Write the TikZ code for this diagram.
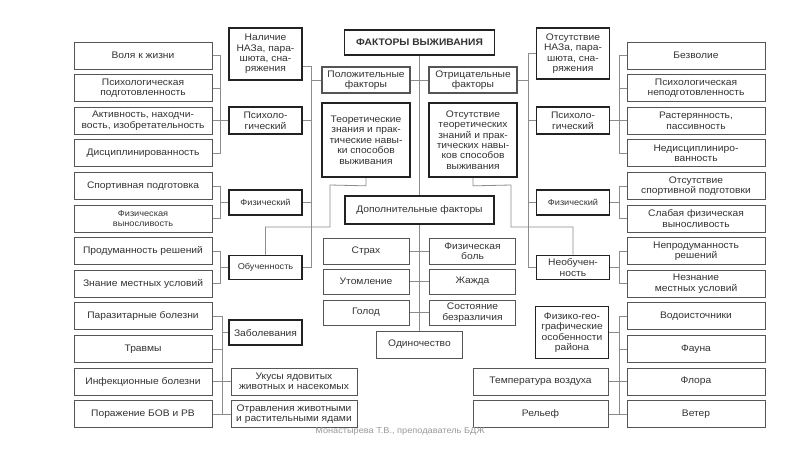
\documentclass[tikz,border=0pt]{standalone}
\usepackage{fontspec}
\setmainfont{Liberation Sans}[FakeStretch=1.08]
\usetikzlibrary{backgrounds}
\definecolor{bordc}{HTML}{555555}
\definecolor{thkc}{HTML}{222222}
\definecolor{linec}{HTML}{8C8C8C}
\definecolor{txtc}{HTML}{333333}
\newcommand\fsa{\fontsize{9.5}{10.4}\selectfont}
\newcommand\fsb{\fontsize{8.5}{9.8}\selectfont}
\begin{document}
\begin{tikzpicture}[x=1pt,y=-1pt,
  box/.style={draw=bordc, line width=0.9pt, fill=white, align=center, inner sep=1pt, font=\fsa, text=txtc},
  thk/.style={box, draw=thkc, line width=1.7pt},
  colbox/.style={box, minimum width=138, minimum height=27},
  smallbox/.style={thk, minimum width=73},
  midbox/.style={box, minimum width=86, minimum height=26},
  con/.style={draw=linec, line width=0.8pt}]
\useasboundingbox (0,0) rectangle (800,450);

% left column
\node[colbox] (l1) at (143,55.5) {Воля к жизни};
\node[colbox] (l2) at (143,88.1) {Психологическая\\подготовленность};
\node[colbox] (l3) at (143,120.7) {Активность, находчи-\\вость, изобретательность};
\node[colbox] (l4) at (143,153.3) {Дисциплинированность};
\node[colbox] (l5) at (143,185.9) {Спортивная подготовка};
\node[colbox, font=\fsb] (l6) at (143,218.5) {Физическая\\выносливость};
\node[colbox] (l7) at (143,251.1) {Продуманность решений};
\node[colbox] (l8) at (143,283.7) {Знание местных условий};
\node[colbox] (l9) at (143,316.3) {Паразитарные болезни};
\node[colbox] (l10) at (143,348.9) {Травмы};
\node[colbox] (l11) at (143,381.5) {Инфекционные болезни};
\node[colbox] (l12) at (143,414.1) {Поражение БОВ и РВ};

% right column
\node[colbox] (r1) at (696,55.5) {Безволие};
\node[colbox] (r2) at (696,88.1) {Психологическая\\неподготовленность};
\node[colbox] (r3) at (696,120.7) {Растерянность,\\пассивность};
\node[colbox] (r4) at (696,153.3) {Недисциплиниро-\\ванность};
\node[colbox] (r5) at (696,185.9) {Отсутствие\\спортивной подготовки};
\node[colbox] (r6) at (696,218.5) {Слабая физическая\\выносливость};
\node[colbox] (r7) at (696,251.1) {Непродуманность\\решений};
\node[colbox] (r8) at (696,283.7) {Незнание\\местных условий};
\node[colbox] (r9) at (696,316.3) {Водоисточники};
\node[colbox] (r10) at (696,348.9) {Фауна};
\node[colbox] (r11) at (696,381.5) {Флора};
\node[colbox] (r12) at (696,414.1) {Ветер};

% left small boxes
\node[smallbox, minimum height=52] (lnaz) at (265.5,54) {Наличие\\НАЗа, пара-\\шюта, сна-\\ряжения};
\node[smallbox, minimum height=27] (lpsy) at (265.5,120.7) {Психоло-\\гический};
\node[smallbox, minimum height=25, font=\fsb] (lfiz) at (265.5,202.2) {Физический};
\node[smallbox, minimum height=24, font=\fsb] (lobu) at (265.5,267.4) {Обученность};
\node[smallbox, minimum height=25] (lill) at (265.5,332.6) {Заболевания};
\node[box, minimum width=126, minimum height=27] (lbite) at (294,381.5) {Укусы ядовитых\\животных и насекомых};
\node[box, minimum width=126, minimum height=27] (lpois) at (294,414.1) {Отравления животными\\и растительными ядами};

% right small boxes
\node[smallbox, minimum height=51] (rnaz) at (573,53.5) {Отсутствие\\НАЗа, пара-\\шюта, сна-\\ряжения};
\node[smallbox, minimum height=27] (rpsy) at (573,120.7) {Психоло-\\гический};
\node[smallbox, minimum height=25, font=\fsb] (rfiz) at (573,202.2) {Физический};
\node[smallbox, minimum height=24] (rnob) at (573,267.4) {Необучен-\\ность};
\node[smallbox, minimum height=52] (rgeo) at (572,332.6) {Физико-гео-\\графические\\особенности\\района};
\node[box, minimum width=135, minimum height=27] (rtemp) at (540.5,381.5) {Температура воздуха};
\node[box, minimum width=135, minimum height=27] (rrel) at (540.5,414.1) {Рельеф};

% centre
\node[thk, minimum width=150, minimum height=25, font=\fsa\bfseries] (title) at (419.5,42.5) {ФАКТОРЫ ВЫЖИВАНИЯ};
\node[box, line width=1.1pt, minimum width=88, minimum height=26] (pos) at (366,80) {Положительные\\факторы};
\node[box, line width=1.1pt, minimum width=88, minimum height=26] (neg) at (473,80) {Отрицательные\\факторы};
\node[thk, minimum width=88, minimum height=74] (teor) at (366,140) {Теоретические\\знания и прак-\\тические навы-\\ки способов\\выживания};
\node[thk, minimum width=88, minimum height=74] (nteor) at (473,140) {Отсутствие\\теоретических\\знаний и прак-\\тических навы-\\ков способов\\выживания};
\node[thk, minimum width=149, minimum height=28] (dop) at (419.5,210) {Дополнительные факторы};
\node[midbox] (strah) at (366,251) {Страх};
\node[midbox] (bol) at (472.5,251) {Физическая\\боль};
\node[midbox, minimum height=25] (utom) at (366,281.5) {Утомление};
\node[midbox, minimum height=25] (zhaz) at (472.5,281.5) {Жажда};
\node[midbox, minimum height=25] (golod) at (366,312.5) {Голод};
\node[midbox, minimum height=25] (bezr) at (472.5,312.5) {Состояние\\безразличия};
\node[midbox, minimum height=27] (odin) at (419.5,344.5) {Одиночество};

\node[font=\fontsize{8.5}{10}\selectfont, text=black!40] (foot) at (400,431) {Монастырева Т.В., преподаватель БДЖ};

\coordinate (bL) at (220,0);
\coordinate (bL2) at (222,0);
\coordinate (bR) at (619,0);
\coordinate (sL) at (311,0);
\coordinate (sR) at (528,0);
\coordinate (nazp) at ([yshift=-12pt]lnaz.east);

\begin{pgfonlayer}{background}
\fill[white] (0,0) rectangle (800,450);
% left brackets
\draw[con] (l1.east) -- (l1.east -| bL) -- (l4.east -| bL) -- (l4.east);
\draw[con] (l2.east) -- (l2.east -| bL);
\draw[con] (l3.east) -- (lpsy.west);
\draw[con] (l5.east) -- (l5.east -| bL) -- (l6.east -| bL) -- (l6.east);
\draw[con] (lfiz.west) -- (lfiz.west -| bL);
\draw[con] (l7.east) -- (l7.east -| bL) -- (l8.east -| bL) -- (l8.east);
\draw[con] (lobu.west) -- (lobu.west -| bL);
\draw[con] (l9.east) -- (l9.east -| bL2) -- (l12.east -| bL2) -- (l12.east);
\draw[con] (l10.east) -- (l10.east -| bL2);
\draw[con] (l11.east) -- (lbite.west);
\draw[con] (l12.east) -- (lpois.west);
\draw[con] (lill.west) -- (lill.west -| bL2);
% right brackets
\draw[con] (r1.west) -- (r1.west -| bR) -- (r4.west -| bR) -- (r4.west);
\draw[con] (r2.west) -- (r2.west -| bR);
\draw[con] (r3.west) -- (rpsy.east);
\draw[con] (r5.west) -- (r5.west -| bR) -- (r6.west -| bR) -- (r6.west);
\draw[con] (rfiz.east) -- (rfiz.east -| bR);
\draw[con] (r7.west) -- (r7.west -| bR) -- (r8.west -| bR) -- (r8.west);
\draw[con] (rnob.east) -- (rnob.east -| bR);
\draw[con] (r9.west) -- (r9.west -| bR) -- (r12.west -| bR) -- (r12.west);
\draw[con] (r10.west) -- (r10.west -| bR);
\draw[con] (r11.west) -- (rtemp.east);
\draw[con] (r12.west) -- (rrel.east);
\draw[con] (rgeo.east) -- (rgeo.east -| bR);
% spines
\draw[con] (nazp) -- (nazp -| sL) -- (lobu.east -| sL) -- (lobu.east);
\draw[con] (lpsy.east) -- (lpsy.east -| sL);
\draw[con] (lfiz.east) -- (lfiz.east -| sL);
\draw[con] (pos.west) -- (pos.west -| sL);
\draw[con] (pos.east) -- (neg.west);
\draw[con] (neg.east) -- (neg.east -| sR);
\draw[con] (rnaz.west) -- (rnaz.west -| sR) -- (rnob.west -| sR) -- (rnob.west);
\draw[con] (rpsy.west) -- (rpsy.west -| sR);
\draw[con] (rfiz.west) -- (rfiz.west -| sR);
% centre
\draw[con] (title.south) -- (odin.north);
\draw[con] (strah.east) -- (bol.west);
\draw[con] (utom.east) -- (zhaz.west);
\draw[con] (golod.east) -- (bezr.west);
\draw[con] (teor.south) -- ++(0,8) -- (330,185) -- (330,227) -| (lobu.north);
\draw[con] (nteor.south) -- ++(0,8) -- (511,185) -- (511,227) -| (rnob.north);
\end{pgfonlayer}
\end{tikzpicture}
\end{document}
